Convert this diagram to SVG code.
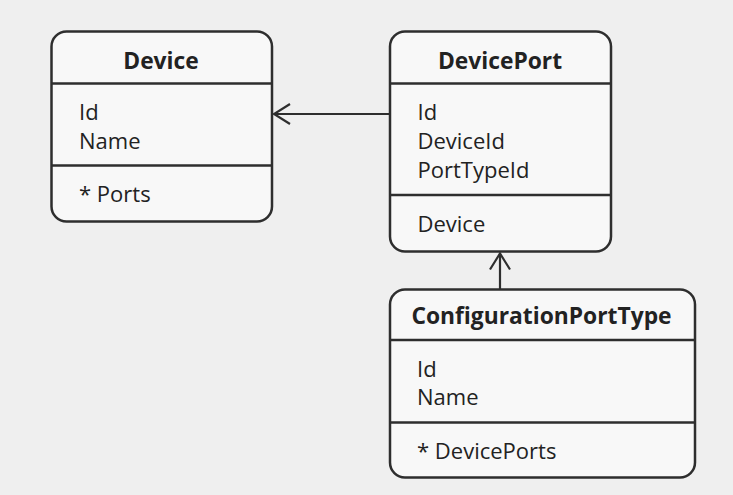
<svg xmlns="http://www.w3.org/2000/svg" width="733" height="495" viewBox="0 0 733 495">
<defs>
<style>
.box{fill:#f8f8f8;stroke:#2e2e2e;stroke-width:2.5}
.div{stroke:#2e2e2e;stroke-width:2.5}
.title{font-family:"Open Sans","Noto Sans",sans-serif;font-weight:bold;font-size:22.8px;fill:#222;text-anchor:middle}
.attr{font-family:"Open Sans","Noto Sans",sans-serif;font-size:22px;fill:#222}
.conn{stroke:#2e2e2e;stroke-width:2.2;fill:none}
</style>
<marker id="open" viewBox="0 0 20 24" refX="18" refY="12" markerWidth="20" markerHeight="24" markerUnits="userSpaceOnUse" orient="auto">
<path d="M2,2 L18,12 L2,22" fill="none" stroke="#2e2e2e" stroke-width="2.2"/>
</marker>
</defs>
<rect width="733" height="495" fill="#efefef"/>
<g id="connectors">
<line class="conn" x1="390" y1="114" x2="274" y2="114" marker-end="url(#open)"/>
<line class="conn" x1="500" y1="289" x2="500" y2="253.5" marker-end="url(#open)"/>
</g>
<g id="Device">
<rect class="box" x="51.5" y="31.5" width="220.5" height="190" rx="15"/>
<line class="div" x1="51.5" y1="83.5" x2="272" y2="83.5"/>
<line class="div" x1="51.5" y1="165.5" x2="272" y2="165.5"/>
<text class="title" x="161" y="68.5">Device</text>
<text class="attr" x="79" y="120">Id</text>
<text class="attr" x="79" y="149">Name</text>
<text class="attr" x="79" y="201.5">* Ports</text>
</g>
<g id="DevicePort">
<rect class="box" x="390" y="31.5" width="221" height="220" rx="15"/>
<line class="div" x1="390" y1="83.5" x2="611" y2="83.5"/>
<line class="div" x1="390" y1="195" x2="611" y2="195"/>
<text class="title" x="500" y="68.5">DevicePort</text>
<text class="attr" x="417.5" y="120">Id</text>
<text class="attr" x="417.5" y="149">DeviceId</text>
<text class="attr" x="417.5" y="178">PortTypeId</text>
<text class="attr" x="417.5" y="231.5">Device</text>
</g>
<g id="ConfigurationPortType">
<rect class="box" x="390" y="289.5" width="305" height="188" rx="15"/>
<line class="div" x1="390" y1="340" x2="695" y2="340"/>
<line class="div" x1="390" y1="422.5" x2="695" y2="422.5"/>
<text class="title" x="541.5" y="324">ConfigurationPortType</text>
<text class="attr" x="417" y="376.5">Id</text>
<text class="attr" x="417" y="405">Name</text>
<text class="attr" x="417" y="458.5">* DevicePorts</text>
</g>
</svg>
